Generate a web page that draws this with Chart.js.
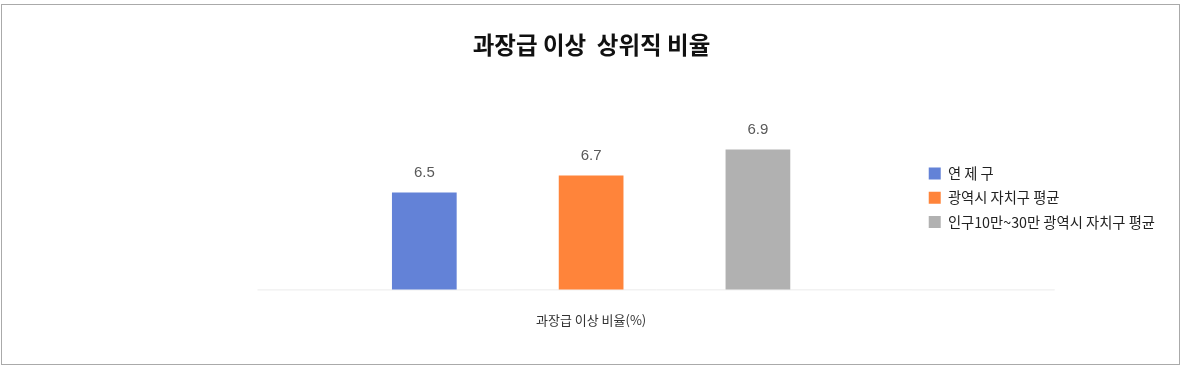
<!DOCTYPE html>
<html>
<head>
<meta charset="utf-8">
<script src="https://cdn.jsdelivr.net/npm/chart.js@4/dist/chart.umd.min.js"></script>
<style>
    html, body { margin: 0; padding: 0; background: #fff; }
    #frame {
        position: absolute; left: 1px; top: 4px;
        width: 1179px; height: 361px;
        box-sizing: border-box; border: 1px solid #aaa;
    }
    #frame canvas { display: block; }
</style>
</head>
<body>
<div id="frame"><canvas id="myChart" width="1177" height="359"></canvas></div>
<script>
const categories = ['과장급 이상 비율(%)'];
const seriesNames = ['연 제 구', '광역시 자치구 평균', '인구10만~30만 광역시 자치구 평균'];
const yeonje = [6.54];
const metroAvg = [6.67];
const popAvg = [6.87];
const colors = ['#6382d7', '#ff843a', '#b1b1b1'];

const KR = '"Noto Sans CJK KR", "Noto Sans", sans-serif';

// values above each bar
const valueLabels = {
    id: 'valueLabels',
    afterDatasetsDraw(chart) {
        const ctx = chart.ctx;
        ctx.save();
        ctx.font = '15px "Liberation Sans", Arial, sans-serif';
        ctx.fillStyle = '#595959';
        ctx.textAlign = 'center';
        ctx.textBaseline = 'middle';
        chart.data.datasets.forEach((ds, i) => {
            chart.getDatasetMeta(i).data.forEach((bar, j) => {
                ctx.fillText(ds.data[j].toFixed(1), bar.x, bar.y - 20);
            });
        });
        ctx.restore();
    }
};

// faint baseline, running on under the legend
const baseLine = {
    id: 'baseLine',
    beforeDatasetsDraw(chart) {
        const { ctx, chartArea } = chart;
        ctx.save();
        ctx.strokeStyle = '#ebebeb';
        ctx.lineWidth = 1;
        ctx.beginPath();
        ctx.moveTo(chartArea.left - 6, chartArea.bottom + 0.5);
        ctx.lineTo(chartArea.right + 136, chartArea.bottom + 0.5);
        ctx.stroke();
        ctx.restore();
    }
};

const data = {
    labels: categories,
    datasets: [yeonje, metroAvg, popAvg].map((vals, i) => ({
        label: seriesNames[i],
        data: vals,
        backgroundColor: colors[i],
        categoryPercentage: 0.7637,
        barPercentage: 0.388
    }))
};

const config = {
    type: 'bar',
    data: data,
    options: {
        responsive: false,
        animation: false,
        layout: {
            padding: { top: 6, left: 16, right: 14, bottom: 21 }
        },
        scales: {
            x: {
                grid: { display: false },
                border: { display: false },
                ticks: {
                    padding: 15,
                    maxRotation: 0,
                    autoSkip: false,
                    color: '#333',
                    font: { family: KR, size: 13 }
                }
            },
            y: {
                min: 5.8,
                max: 7.2,
                grid: { display: false },
                border: { display: false },
                ticks: { display: false },
                afterFit(scale) { scale.width = 245.5; }
            }
        },
        plugins: {
            title: {
                display: true,
                text: '과장급 이상  상위직 비율',
                color: '#111',
                font: { family: KR, size: 23.5, weight: 'bold' },
                padding: { top: 20, bottom: 47 }
            },
            legend: {
                position: 'right',
                fullSize: false,
                align: 'center',
                labels: {
                    boxWidth: 12,
                    boxHeight: 12,
                    padding: 10,
                    color: '#222',
                    font: { family: KR, size: 14.3 }
                }
            },
            tooltip: { enabled: false }
        }
    },
    plugins: [baseLine, valueLabels]
};

const myChart = new Chart(document.getElementById('myChart'), config);
</script>
</body>
</html>
